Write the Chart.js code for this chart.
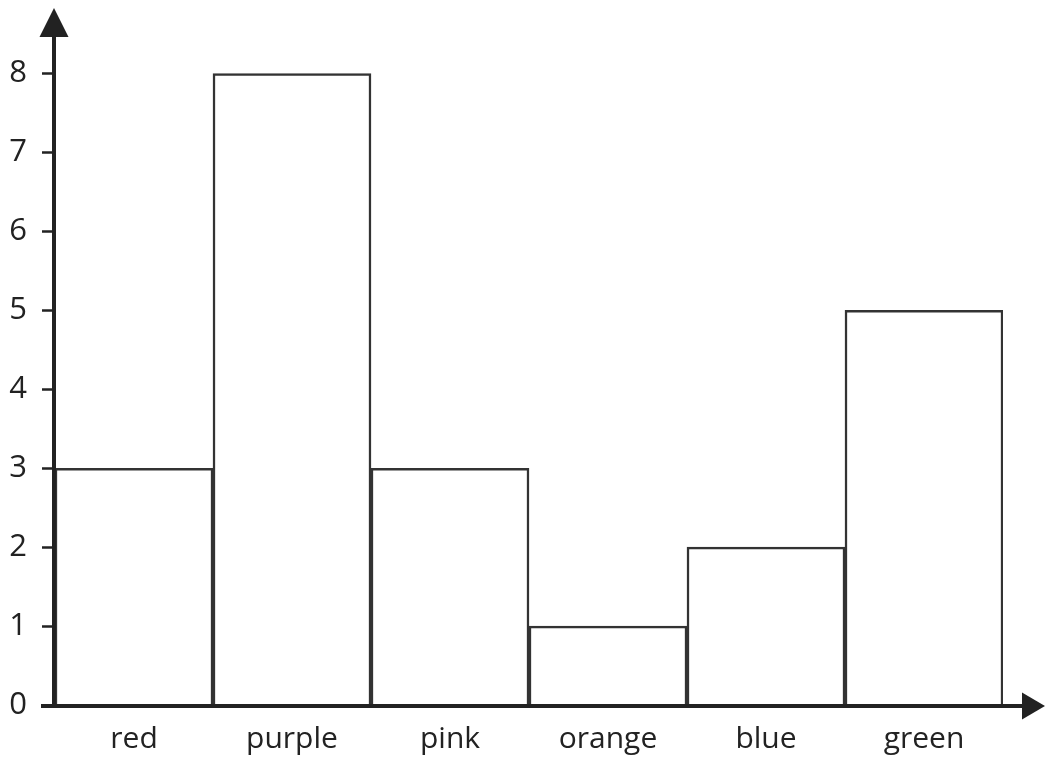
<!DOCTYPE html>
<html>
<head>
<meta charset="utf-8">
<script src="https://cdn.jsdelivr.net/npm/chart.js@4/dist/chart.umd.min.js"></script>
<style>
html,body{margin:0;padding:0;background:#fff;}
canvas{display:block;}
</style>
</head>
<body>
<canvas id="c" width="1045" height="760"></canvas>
<script>
const categories = ["red", "purple", "pink", "orange", "blue", "green"];
const counts = [3, 8, 3, 1, 2, 5];
const yTicks = [0, 1, 2, 3, 4, 5, 6, 7, 8];

const INK = '#222222';
const FONT = '"Open Sans", Lato, sans-serif';

const arrowPlugin = {
  id: 'arrows',
  afterDatasetsDraw(chart) {
    const ctx = chart.ctx;
    const ca = chart.chartArea;
    const x0 = ca.left - 1, y0 = ca.bottom + 1;
    ctx.save();
    ctx.strokeStyle = INK;
    ctx.fillStyle = INK;
    ctx.lineWidth = 4;
    ctx.beginPath();
    ctx.moveTo(x0, y0);
    ctx.lineTo(x0, 30);
    ctx.stroke();
    ctx.beginPath();
    ctx.moveTo(41, y0);
    ctx.lineTo(1028, y0);
    ctx.stroke();
    // y arrow
    ctx.beginPath();
    ctx.moveTo(x0, 8);
    ctx.lineTo(x0 - 14.5, 37);
    ctx.lineTo(x0 + 14.5, 37);
    ctx.closePath();
    ctx.fill();
    // x arrow
    ctx.beginPath();
    ctx.moveTo(1045, y0);
    ctx.lineTo(1022, y0 - 13.5);
    ctx.lineTo(1022, y0 + 13.5);
    ctx.closePath();
    ctx.fill();
    ctx.restore();
  }
};

new Chart(document.getElementById('c'), {
  type: 'bar',
  data: {
    labels: categories,
    datasets: [{
      data: counts,
      backgroundColor: '#ffffff',
      borderColor: '#333333',
      borderWidth: 2.5,
      categoryPercentage: 1,
      barPercentage: 1
    }]
  },
  options: {
    responsive: false,
    animation: false,
    devicePixelRatio: 1,
    layout: { padding: { left: 0, right: 42, top: 12, bottom: 0 } },
    plugins: { legend: { display: false }, tooltip: { enabled: false } },
    scales: {
      x: {
        grid: { display: false, drawTicks: false },
        border: { display: false },
        ticks: { color: INK, font: { family: FONT, size: 30 }, padding: 16, maxRotation: 0 },
        afterFit(s) { s.height = 55; s.paddingLeft = 0; s.paddingRight = 0; }
      },
      y: {
        min: 0,
        max: 8.78,
        grid: { drawOnChartArea: false, drawTicks: true, tickLength: 13, tickWidth: 2.5, tickColor: INK, color: INK },
        border: { display: false },
        afterBuildTicks(s) { s.ticks = yTicks.map(v => ({ value: v })); },
        ticks: { color: INK, font: { family: FONT, size: 31 }, padding: 15 },
        afterFit(s) { s.width = 55; s.paddingTop = 0; s.paddingBottom = 0; }
      }
    }
  },
  plugins: [arrowPlugin]
});
</script>
</body>
</html>
